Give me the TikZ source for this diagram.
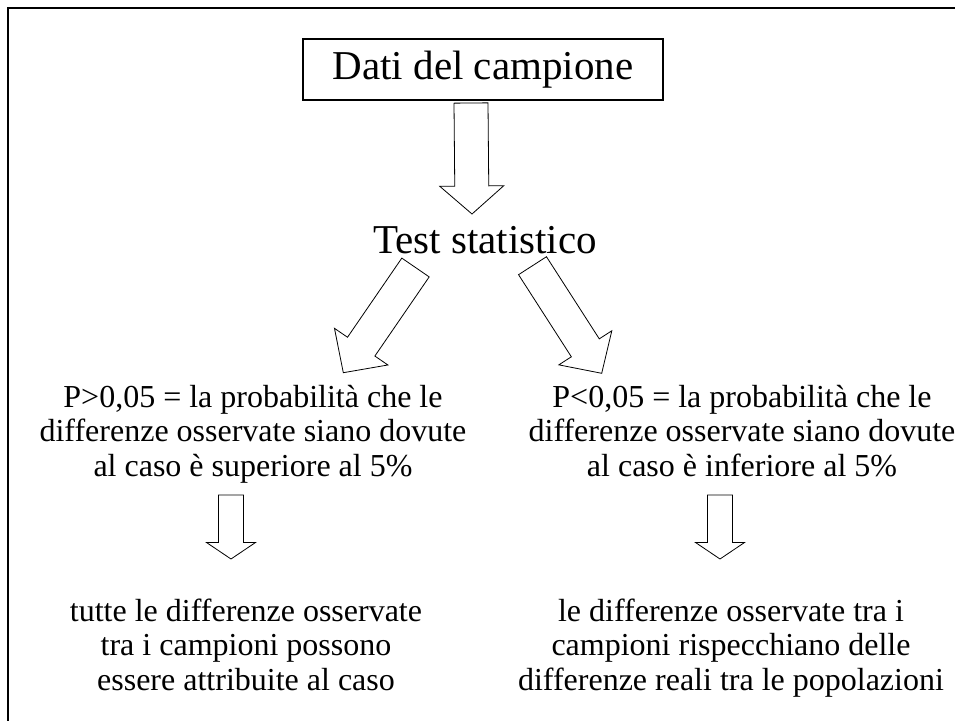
\documentclass[tikz,border=0pt]{standalone}
\usepackage{fontspec}
\setmainfont{Liberation Serif}
\usetikzlibrary{positioning,calc}

% hollow block arrow: #1 start, #2 tip, #3 shaft half width, #4 head half width, #5 head length
\newcommand\blkarrow[5]{%
  \coordinate (ba-h) at ($(#2)!#5!(#1)$);
  \draw[blk] ($(#1)!#3!90:(#2)$) -- ($(ba-h)!#3!90:(#2)$) -- ($(ba-h)!#4!90:(#2)$) -- (#2)
    -- ($(ba-h)!#4!-90:(#2)$) -- ($(ba-h)!#3!-90:(#2)$) -- ($(#1)!#3!-90:(#2)$) -- cycle;}

\begin{document}
\begin{tikzpicture}[
    x=1pt, y=-1pt,
    big/.style={font=\fontsize{41}{46}\selectfont, inner sep=0pt},
    txt/.style={font=\fontsize{32}{34.5}\selectfont, align=center, inner sep=0pt},
    box/.style={draw, line width=1.2pt, minimum width=360pt, minimum height=61pt, inner sep=0pt},
    blk/.style={draw, line width=0.8pt, line join=miter, fill=white},
]
    \useasboundingbox (0,0) rectangle (955,720);
    \clip (0,0) rectangle (955,720);
    \fill[white] (0,0) rectangle (955,720);
    \draw[line width=2pt] (8,8) rectangle (970,735);

    \node[box, big] (dati) at (483,69.5) {Dati del campione};
    \node[big, anchor=base] (test) at (485,253) {Test statistico};
    % base = baseline of the last line
    \node[txt, anchor=base] (sup) at (253,476) {P>0,05 = la probabilità che le\\differenze osservate siano dovute\\al caso è superiore al 5\%};
    \node[txt, anchor=base] (inf) at (742,476) {P<0,05 = la probabilità che le\\differenze osservate siano dovute\\al caso è inferiore al 5\%};
    \node[txt, anchor=base] (caso) at (246,690) {tutte le differenze osservate\\tra i campioni possono\\essere attribuite al caso};
    \node[txt, anchor=base] (reali) at (731,690) {le differenze osservate tra i\\campioni rispecchiano delle\\differenze reali tra le popolazioni};

    % arrow ends
    \coordinate (d0) at (471,103);   \coordinate (d1) at (472,214);
    \coordinate (l0) at (415.5,267.5); \coordinate (l1) at (343.3,372.7);
    \coordinate (r0) at (532.5,265.7); \coordinate (r1) at (601.7,373.3);
    \coordinate (s0) at (231,495);   \coordinate (s1) at (231,559);
    \coordinate (i0) at (720,495);   \coordinate (i1) at (720,559);

    \blkarrow{d0}{d1}{17pt}{32pt}{28pt}
    \blkarrow{l0}{l1}{16.6pt}{32.4pt}{31.6pt}
    \blkarrow{r0}{r1}{16.6pt}{31.5pt}{30.3pt}
    \blkarrow{s0}{s1}{12.5pt}{24.5pt}{16.5pt}
    \blkarrow{i0}{i1}{12.5pt}{24.5pt}{16.5pt}
\end{tikzpicture}
\end{document}
